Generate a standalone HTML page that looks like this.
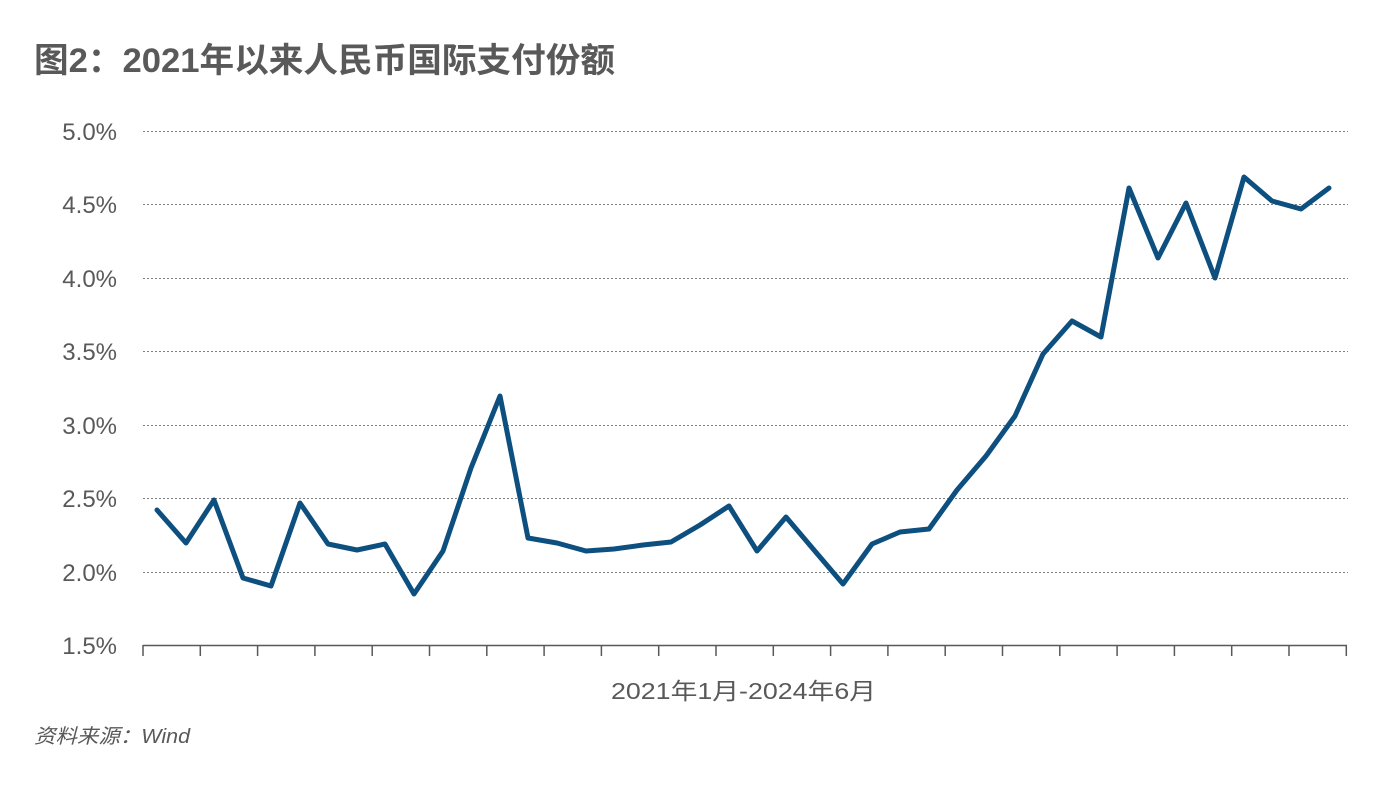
<!DOCTYPE html>
<html><head><meta charset="utf-8"><style>
html,body{margin:0;padding:0;background:#fff;}
body{width:1399px;height:796px;overflow:hidden;position:relative;font-family:"Liberation Sans","Noto Sans CJK SC",sans-serif;}
</style></head><body>
<svg width="1399" height="796" viewBox="0 0 1399 796" xmlns="http://www.w3.org/2000/svg" style="position:absolute;left:0;top:0">
<text x="34" y="72" font-size="34" font-weight="bold" fill="#595959" font-family="Liberation Sans,Noto Sans CJK SC,sans-serif" textLength="581" lengthAdjust="spacingAndGlyphs">图2：2021年以来人民币国际支付份额</text>
<g stroke="#7f7f7f" stroke-width="1" stroke-dasharray="2,2">
<line x1="143" y1="131.5" x2="1348" y2="131.5"/>
<line x1="143" y1="204.5" x2="1348" y2="204.5"/>
<line x1="143" y1="278.5" x2="1348" y2="278.5"/>
<line x1="143" y1="351.5" x2="1348" y2="351.5"/>
<line x1="143" y1="425.5" x2="1348" y2="425.5"/>
<line x1="143" y1="498.5" x2="1348" y2="498.5"/>
<line x1="143" y1="572.5" x2="1348" y2="572.5"/>
</g>
<line x1="143" y1="645.5" x2="1347" y2="645.5" stroke="#595959" stroke-width="1.5"/>
<g stroke="#595959" stroke-width="1.5">
<line x1="143" y1="645" x2="143" y2="656"/><line x1="200.3" y1="645" x2="200.3" y2="656"/><line x1="257.6" y1="645" x2="257.6" y2="656"/><line x1="314.9" y1="645" x2="314.9" y2="656"/><line x1="372.2" y1="645" x2="372.2" y2="656"/><line x1="429.5" y1="645" x2="429.5" y2="656"/><line x1="486.8" y1="645" x2="486.8" y2="656"/><line x1="544.1" y1="645" x2="544.1" y2="656"/><line x1="601.4" y1="645" x2="601.4" y2="656"/><line x1="658.7" y1="645" x2="658.7" y2="656"/><line x1="716" y1="645" x2="716" y2="656"/><line x1="773.3" y1="645" x2="773.3" y2="656"/><line x1="830.6" y1="645" x2="830.6" y2="656"/><line x1="887.9" y1="645" x2="887.9" y2="656"/><line x1="945.2" y1="645" x2="945.2" y2="656"/><line x1="1002.5" y1="645" x2="1002.5" y2="656"/><line x1="1059.8" y1="645" x2="1059.8" y2="656"/><line x1="1117.1" y1="645" x2="1117.1" y2="656"/><line x1="1174.4" y1="645" x2="1174.4" y2="656"/><line x1="1231.7" y1="645" x2="1231.7" y2="656"/><line x1="1289" y1="645" x2="1289" y2="656"/><line x1="1346.3" y1="645" x2="1346.3" y2="656"/>
</g>
<g font-size="24" fill="#595959" text-anchor="end" font-family="Liberation Sans,sans-serif">
<text x="117" y="140">5.0%</text>
<text x="117" y="213">4.5%</text>
<text x="117" y="287">4.0%</text>
<text x="117" y="360">3.5%</text>
<text x="117" y="434">3.0%</text>
<text x="117" y="507">2.5%</text>
<text x="117" y="581">2.0%</text>
<text x="117" y="654">1.5%</text>
</g>
<text x="611" y="699" font-size="23" fill="#595959" font-family="Liberation Sans,Noto Sans CJK SC,sans-serif" textLength="265" lengthAdjust="spacingAndGlyphs">2021年1月-2024年6月</text>
<text x="34" y="743" font-size="20" fill="#595959" font-style="italic" font-family="Liberation Sans,Noto Sans CJK SC,sans-serif" textLength="156" lengthAdjust="spacingAndGlyphs">资料来源：Wind</text>
<polyline fill="none" stroke="#0d4f7f" stroke-width="5" stroke-linejoin="round" stroke-linecap="round" points="157,510 186,543 214,500 243,578 271,586 300,503 328,544 357,550 385,544 414,594 443,551 471,468 500,396 528,538 557,543 586,551 614,549 643,545 671,542 700,525 729,506 757,551 786,517 814,550 843,584 872,544 900,532 929,529 957,490 986,456 1015,416 1043,354 1072,321 1101,337 1129,188 1158,258 1186,203 1215,278 1244,177 1272,201 1301,209 1329,188"/>
</svg>
</body></html>
